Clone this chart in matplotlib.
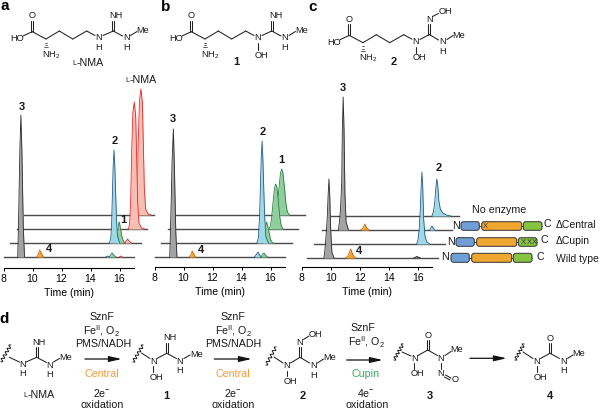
#!/usr/bin/env python3

import numpy as np
import matplotlib
matplotlib.use('Agg')
import matplotlib.pyplot as plt
from matplotlib.patches import FancyBboxPatch

plt.rcParams['font.family'] = ['Liberation Sans', 'DejaVu Sans']
plt.rcParams['mathtext.fontset'] = 'custom'
plt.rcParams['mathtext.rm'] = 'Liberation Sans'
plt.rcParams['mathtext.default'] = 'regular'

W, H = 600, 409
ticks = [8, 10, 12, 14, 16]

# peaks: (compound, times in min, signal)
a_wild = [
    ('3', [8.98, 9.03, 9.08, 9.13, 9.2, 9.27, 9.32, 9.37, 9.45], [0, 30, 68, 108, 142, 105, 65, 28, 0]),
    ('4', [10.3, 10.4, 10.5, 10.6, 10.75], [0, 3, 7, 4, 0]),
    ('2', [15.05, 15.2, 15.3], [0, 1, 0]),
    ('1', [15.3, 15.42, 15.5, 15.6, 15.75], [0, 3, 4, 2, 0]),
    ('NMA', [16.0, 16.1, 16.2], [0, 1, 0]),
]
a_cupin = [
    ('1', [15.35, 15.42, 15.48, 15.53, 15.6, 15.68, 15.78, 15.9], [0, 12, 20, 21, 15, 8, 3, 0]),
    ('2', [14.85, 14.95, 15.0, 15.05, 15.1, 15.16, 15.22, 15.28, 15.33, 15.4, 15.55], [0, 6, 22, 48, 76, 93, 76, 48, 24, 7, 0]),
    ('NMA', [15.9, 16.0, 16.1, 16.2, 16.35], [0, 2, 4, 2, 0]),
]
a_central = [
    ('NMA', [15.7, 15.78, 15.85, 15.92, 16.0, 16.1, 16.2, 16.27, 16.33, 16.42, 16.6, 16.8], [0, 6, 30, 78, 116, 127, 112, 68, 28, 6, 1, 0]),
]
a_none = [
    ('NMA', [15.7, 15.78, 15.85, 15.92, 16.0, 16.1, 16.2, 16.27, 16.33, 16.42, 16.6, 16.8], [0, 6, 30, 78, 115, 126, 112, 68, 28, 6, 1, 0]),
]

b_wild = [
    ('3', [9.05, 9.1, 9.16, 9.21, 9.3, 9.37, 9.42, 9.47, 9.55], [0, 26, 60, 95, 128, 92, 58, 24, 0]),
    ('4', [10.4, 10.5, 10.6, 10.7, 10.85], [0, 2, 6, 3, 0]),
    ('2', [14.9, 15.0, 15.14, 15.25, 15.35], [0, 2, 5, 2, 0]),
    ('1', [15.35, 15.45, 15.55, 15.65, 15.8], [0, 3, 4, 2, 0]),
]
b_cupin = [
    ('1', [15.05, 15.15, 15.27, 15.35, 15.45, 15.55, 15.7], [0, 12, 21, 17, 10, 3, 0]),
    ('2', [14.6, 14.7, 14.78, 14.84, 14.9, 14.96, 15.02, 15.08, 15.14, 15.22, 15.4], [0, 5, 24, 54, 85, 102, 82, 52, 26, 6, 0]),
]
b_central = [
    ('1', [14.95, 15.05, 15.15, 15.25, 15.35, 15.43, 15.52, 15.62, 15.72, 15.82, 15.95], [0, 2, 10, 26, 40, 45, 42, 28, 12, 3, 0]),
]
b_none = [
    ('1', [14.9, 15.0, 15.1, 15.2, 15.3, 15.39, 15.48, 15.58, 15.68, 15.78, 15.95], [0, 2, 10, 26, 41, 46, 42, 28, 12, 3, 0]),
]

c_wild = [
    ('3', [9.15, 9.22, 9.3, 9.38, 9.44, 9.5, 9.56, 9.62, 9.7, 9.85], [0, 8, 22, 40, 62, 79, 60, 28, 6, 0]),
    ('4', [10.65, 10.8, 10.9, 11.0, 11.1, 11.2, 11.35], [0, 2, 5, 9, 5, 2, 0]),
    ('K', [15.35, 15.57, 15.8], [0, 1.5, 0]),
]
c_cupin = [
    ('2', [15.05, 15.15, 15.22, 15.3, 15.36, 15.41, 15.47, 15.53, 15.62, 15.75, 15.95], [0, 5, 14, 35, 58, 72, 56, 25, 8, 2, 0]),
]
c_central = [
    ('3', [9.15, 9.22, 9.3, 9.38, 9.42, 9.48, 9.54, 9.6, 9.68, 9.85], [0, 8, 22, 48, 98, 133, 100, 38, 8, 0]),
    ('4', [10.7, 10.85, 10.98, 11.1, 11.25], [0, 2, 6, 2, 0]),
    ('2', [15.45, 15.6, 15.78], [0, 4, 0]),
]
c_none = [
    ('2', [15.1, 15.2, 15.3, 15.37, 15.44, 15.5, 15.58, 15.68, 15.85, 16.1, 16.4], [0, 4, 14, 28, 37, 31, 15, 7, 3, 1, 0]),
]

fills = {'1': '#8fcf9c', '2': '#9fd9e6', '3': '#a3a3a3', '4': '#f5a623', 'NMA': '#f7bfb2', 'K': '#666666'}
edges = {'1': '#2f7d44', '2': '#24598c', '3': '#2b2b2b', '4': '#c4621a', 'NMA': '#e8242c', 'K': '#111111'}

px_per_min = 14.5
trace_len = 130.5

fig = plt.figure(figsize=(W / 100, H / 100), dpi=100)


def chromatogram(left, bottom, shift, step, base, traces):
    ax = fig.add_axes([left / W, 1 - bottom / H, trace_len / W, 188 / H])
    ax.patch.set_alpha(0)
    ax.set_xlim(8, 8 + trace_len / px_per_min)
    ax.set_ylim(0, 188)
    for s in ['left', 'right', 'top']:
        ax.spines[s].set_visible(False)
    ax.spines['bottom'].set_linewidth(0.8)
    ax.set_yticks([])
    ax.set_xticks(ticks)
    ax.tick_params(axis='x', length=2, width=0.7, pad=2.5, labelsize=7.5)
    ax.set_xlabel('Time (min)', fontsize=7.6, labelpad=2.5)

    # back trace first so the front peaks cover it
    for k in reversed(range(len(traces))):
        xo = shift + k * step
        yo = base + k * 14
        ax.plot([8 + xo, 8 + xo + trace_len / px_per_min], [yo, yo], color='#4a4a4a', lw=1.0, clip_on=False, zorder=2 + 2 * (3 - k))
        for compound, t, v in traces[k]:
            x = np.array(t) + xo
            y = np.array(v) + yo
            ax.fill_between(x, yo, y, color=fills[compound], lw=0, clip_on=False, zorder=3 + 2 * (3 - k))
            ax.plot(x, y, color=edges[compound], lw=0.6, clip_on=False, zorder=3 + 2 * (3 - k))
    return ax


chromatogram(3.5, 268, 0.0, 0.46, 11, [a_wild, a_cupin, a_central, a_none])
chromatogram(154.5, 267, 0.0, 0.46, 10, [b_wild, b_cupin, b_central, b_none])
chromatogram(301.7, 267, 0.38, 0.50, 9, [c_wild, c_cupin, c_central, c_none])

# everything else is placed in image pixels
ov = fig.add_axes([0, 0, 1, 1], zorder=20)
ov.set_xlim(0, W)
ov.set_ylim(H, 0)
ov.axis('off')
ov.patch.set_alpha(0)

INK = '#222222'


def txt(x, y, s, size=7.7, **kw):
    kw.setdefault('color', '#1a1a1a')
    ov.text(x, y, s, fontsize=size, ha=kw.pop('ha', 'center'), va='center', **kw)


def atom(x, y, s):
    txt(x, y, s, size=6.6)


def num(x, y, s):
    txt(x, y, s, size=8.0, fontweight='bold')


def letter(x, y, s):
    txt(x, y, s, size=11, fontweight='bold', color='black')


def bond(x1, y1, x2, y2, lw=0.75):
    ov.plot([x1, x2], [y1, y2], color=INK, lw=lw, solid_capstyle='round')


def double(x1, y1, x2, y2, gap=1.1):
    # vertical or slanted pair of lines
    d = np.array([x2 - x1, y2 - y1], dtype=float)
    n = np.array([-d[1], d[0]]) / np.hypot(*d) * gap
    bond(x1 + n[0], y1 + n[1], x2 + n[0], y2 + n[1])
    bond(x1 - n[0], y1 - n[1], x2 - n[0], y2 - n[1])


def nma_label(x, y, size=7.7):
    txt(x - 14.5, y + 0.6, 'L', size=size * 0.68, ha='left')
    txt(x - 10, y, '-NMA', size=size, ha='left')


def backbone(dx, dy):
    # acid end and side chain shared by the three substrates
    atom(16.7 + dx, 38.7 + dy, 'HO')
    bond(23 + dx, 36 + dy, 32.3 + dx, 31.7 + dy)
    double(32.3 + dx, 31.7 + dy, 32.3 + dx, 20.5 + dy)
    atom(32.3 + dx, 15.7 + dy, 'O')
    bond(32.3 + dx, 31.7 + dy, 46 + dx, 39 + dy)
    bond(46 + dx, 39 + dy, 59.3 + dx, 31 + dy)
    bond(59.3 + dx, 31 + dy, 72.7 + dx, 39 + dy)
    bond(72.7 + dx, 39 + dy, 86.7 + dx, 31 + dy)
    bond(86.7 + dx, 31 + dy, 95 + dx, 35.5 + dy)
    for i, w in enumerate([0.8, 1.6, 2.4, 3.2]):
        yy = 40.5 + i * 2.2 + dy
        bond(46 + dx - w / 2, yy, 46 + dx + w / 2, yy, lw=0.5)
    atom(51.5 + dx, 55 + dy, 'NH$_2$')


def wavy(x0, y0, x1, y1):
    s = np.linspace(0, 1, 40)
    d = np.array([x1 - x0, y1 - y0], dtype=float)
    n = np.array([-d[1], d[0]]) / np.hypot(*d)
    xx = x0 + d[0] * s + n[0] * 1.5 * np.sin(s * 5 * 2 * np.pi)
    yy = y0 + d[1] * s + n[1] * 1.5 * np.sin(s * 5 * 2 * np.pi)
    ov.plot(xx, yy, color=INK, lw=0.7)


def arrow(x0, x1, y):
    ov.annotate('', xy=(x1, y), xytext=(x0, y),
                arrowprops=dict(arrowstyle='-|>,head_length=0.75,head_width=0.17', lw=0.9, color='#111111', shrinkA=0, shrinkB=0))


# panel a structure
backbone(0, 0)
atom(99, 38, 'N')
atom(99, 47, 'H')
bond(103, 35.5, 113.3, 31)
double(113.3, 31, 113.3, 20.5)
atom(116, 16, 'NH')
bond(113.3, 31, 122.5, 36)
atom(126.3, 38, 'N')
atom(126.3, 47, 'H')
bond(130.5, 35.5, 137, 31.5)
atom(143, 30.5, 'Me')
nma_label(86.7, 63)

# panel b structure
backbone(159, 0)
atom(258, 38, 'N')
bond(258, 43, 258, 50)
atom(261.5, 55.7, 'OH')
bond(262, 35.5, 271.7, 31)
double(271.7, 31, 271.7, 20.5)
atom(275.5, 16, 'NH')
bond(271.7, 31, 281, 36)
atom(285, 38, 'N')
atom(285, 47, 'H')
bond(289, 35.5, 295.5, 31.5)
atom(301.5, 30.5, 'Me')
num(236.7, 62, '1')

# panel c structure
backbone(317, 3.7)
atom(415.7, 42, 'N')
bond(415.7, 47, 415.7, 53)
atom(419, 57.5, 'OH')
bond(420, 39.5, 429.3, 34.5)
double(429.3, 34.5, 429.3, 24)
atom(429.3, 19.3, 'N')
bond(432.5, 16.5, 438.5, 13.5)
atom(445.5, 11.7, 'OH')
bond(429.3, 34.5, 438.5, 40)
atom(442.7, 42, 'N')
atom(442.7, 51, 'H')
bond(447, 39.5, 453, 35.5)
atom(459, 35, 'Me')
num(393.3, 61.7, '2')

letter(5, 6.5, 'a')
letter(166, 7, 'b')
letter(313, 7, 'c')
letter(4, 319, 'd')

# peak labels
nma_label(140, 80)
for x, y, s in [(22, 107, '3'), (115, 140.7, '2'), (123.3, 220, '1'), (48.7, 249.3, '4'),
                (173.3, 119.3, '3'), (262.3, 131.7, '2'), (281.7, 160, '1'), (201, 249.7, '4'),
                (343, 87.7, '3'), (438.3, 168.3, '2'), (358.7, 250.7, '4')]:
    num(x, y, s)

# domain cartoons
blue_d, orange_d, green_d = '#6f9fd8', '#efa72f', '#86c341'


def domain(x0, x1, y0, y1, colour):
    ov.add_patch(FancyBboxPatch((x0 + 1.5, y0 + 1.5), x1 - x0 - 3, y1 - y0 - 3,
                                boxstyle='round,pad=1.5,rounding_size=2.5',
                                fc=colour, ec='#333333', lw=0.7, zorder=3))


def protein(xo, y0, y1):
    bond(xo, (y0 + y1) / 2, xo + 81, (y0 + y1) / 2, lw=0.6)
    domain(xo, xo + 18.3, y0, y1, blue_d)
    domain(xo + 20.7, xo + 60.7, y0, y1, orange_d)
    domain(xo + 62.3, xo + 81, y0, y1, green_d)


protein(461, 221.7, 230.3)
protein(456, 237.7, 246.3)
protein(451, 253.3, 262.3)
txt(485, 226, 'X', size=5.5, color='#333333', zorder=5)
for x in [523.5, 529.5, 534.5]:
    txt(x, 242, 'X', size=5.5, color='#333333', zorder=5)

txt(498.7, 210, 'No enzyme')
txt(455.7, 225.7, 'N')
txt(547, 224.3, 'C')
txt(575.7, 225, '\u0394Central', size=7.5)
txt(451, 241.7, 'N')
txt(544, 240.3, 'C')
txt(572.3, 241.3, '\u0394Cupin', size=7.5)
txt(445, 256.7, 'N')
txt(540.3, 256.7, 'C')
txt(577, 258.7, 'Wild type', size=7.5)

# panel d, L-NMA
wavy(1, 361.7, 10.7, 345)
bond(9.3, 357.3, 19.5, 362)
atom(22.7, 364.3, 'N')
atom(22.7, 374, 'H')
bond(26, 362, 36.7, 357.3)
double(36.7, 357.3, 36.7, 347)
atom(39.3, 342.3, 'NH')
bond(36.7, 357.3, 46.5, 362.5)
atom(50, 365, 'N')
atom(50, 374.5, 'H')
bond(53.5, 362, 59.5, 358.5)
atom(66, 357.3, 'Me')
nma_label(38, 395)

# step 1
txt(101.7, 317.3, 'SznF')
txt(101.7, 331, 'Fe$^{\\mathregular{II}}$, O$_2$')
txt(103.3, 344, 'PMS/NADH')
arrow(85, 121.7, 359)
txt(101.7, 374, 'Central', color='#f39a3c')
txt(101.7, 392.7, '2e$^{-}$')
txt(101.7, 404.5, 'oxidation')

# compound 1
wavy(133, 362, 143, 345)
bond(141.5, 353, 150, 358.5)
atom(153.3, 361, 'N')
bond(153.3, 366, 153.3, 372)
atom(156.7, 377, 'OH')
bond(157, 358.5, 166.7, 353.3)
double(166.7, 353.3, 166.7, 343)
atom(170, 337.7, 'NH')
bond(166.7, 353.3, 176.5, 358.5)
atom(180, 361, 'N')
atom(180, 370.5, 'H')
bond(184, 358.5, 190, 355)
atom(196.7, 354.3, 'Me')
num(166.7, 395.7, '1')

# step 2
txt(233, 317.3, 'SznF')
txt(233, 331, 'Fe$^{\\mathregular{II}}$, O$_2$')
txt(233, 344, 'PMS/NADH')
arrow(214.3, 251.7, 359)
txt(233, 374, 'Central', color='#f39a3c')
txt(233, 392.7, '2e$^{-}$')
txt(233, 404.5, 'oxidation')

# compound 2
wavy(266, 365, 276, 347)
bond(274, 357, 283, 363)
atom(286.7, 365.7, 'N')
bond(286.7, 370.5, 286.7, 376)
atom(290, 381, 'OH')
bond(290.5, 363, 300, 357.3)
double(300, 357.3, 300, 347)
atom(300, 342.3, 'N')
bond(303.5, 339.5, 309, 336)
atom(315.7, 334.3, 'OH')
bond(300, 357.3, 309.5, 363)
atom(313.3, 365, 'N')
atom(313.3, 375, 'H')
bond(317.5, 363, 323.5, 359)
atom(330, 357.3, 'Me')
num(302.3, 395.7, '2')

# step 3
txt(363.3, 327.7, 'SznF')
txt(366, 342.7, 'Fe$^{\\mathregular{II}}$, O$_2$')
arrow(346.7, 382.7, 360)
txt(366, 374.3, 'Cupin', color='#2eae5c')
txt(366, 392.7, '4e$^{-}$')
txt(366.7, 404.5, 'oxidation')

# compound 3
wavy(394, 360, 403, 344)
bond(402, 352, 411, 356)
atom(414.3, 358.3, 'N')
bond(414.3, 363, 414.3, 369)
atom(417.7, 374, 'OH')
bond(418, 355.5, 427.7, 350)
double(427.7, 350, 427.7, 340)
atom(427.7, 335, 'O')
bond(427.7, 350, 437.5, 355.5)
atom(441, 358.3, 'N')
bond(445, 355.5, 451, 351.5)
atom(456.7, 350, 'Me')
bond(441, 363, 441, 369)
atom(441, 374, 'N')
double(445, 376, 450.5, 379)
atom(455, 380, 'O')
num(430, 395.7, '3')

# step 4
arrow(470, 506.7, 358.3)

# compound 4
wavy(515, 360, 524, 344)
bond(523, 352, 533, 358.5)
atom(536.7, 361, 'N')
bond(536.7, 366, 536.7, 372)
atom(540, 377.3, 'OH')
bond(540.5, 358.5, 550, 353.3)
double(550, 353.3, 550, 343)
atom(550, 338.3, 'O')
bond(550, 353.3, 559.5, 358.5)
atom(563.3, 361, 'N')
atom(563.3, 370.5, 'H')
bond(567.5, 358.5, 573, 355)
atom(579, 354, 'Me')
num(550, 395.7, '4')

fig.savefig('out.png', dpi=100)
